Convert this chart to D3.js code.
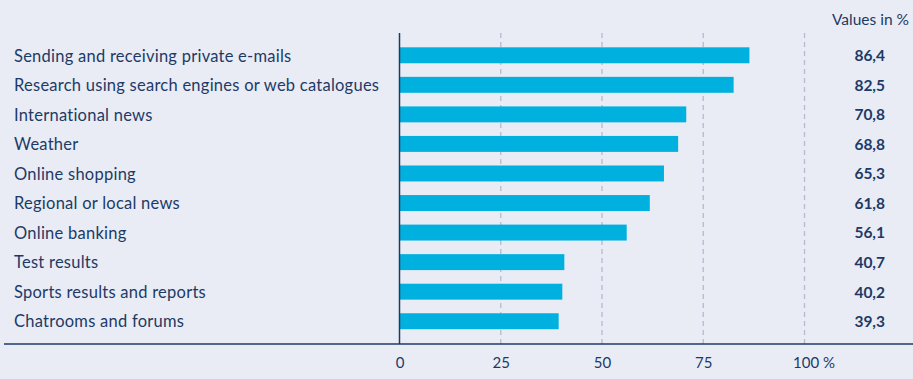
<!DOCTYPE html>
<html><head><meta charset="utf-8">
<script src="https://cdn.jsdelivr.net/npm/d3@7"></script>
<style>
html,body{margin:0;padding:0;background:#e9ecf5;}
svg{display:block;}
text{font-family:Lato,"Open Sans",sans-serif;fill:#1d3a66;}
</style></head><body>
<svg id="chart" width="913" height="379"></svg>
<script>
const categories = ["Sending and receiving private e-mails","Research using search engines or web catalogues","International news","Weather","Online shopping","Regional or local news","Online banking","Test results","Sports results and reports","Chatrooms and forums"];
const values = [86.4, 82.5, 70.8, 68.8, 65.3, 61.8, 56.1, 40.7, 40.2, 39.3];
const valueLabels = ["86,4","82,5","70,8","68,8","65,3","61,8","56,1","40,7","40,2","39,3"];
const ticks = [0, 25, 50, 75, 100];
const unitLabel = "Values in %";

const svg = d3.select("#chart");
const x = d3.scaleLinear().domain([0,100]).range([399.5, 804.5]);
const y = d3.scaleBand().domain(categories).range([40.5, 336]).paddingInner(0.46).paddingOuter(0.23);

// gridlines
svg.append("g").selectAll("line").data(ticks.filter(t=>t>0)).join("line")
  .attr("x1",d=>x(d)).attr("x2",d=>x(d)).attr("y1",33).attr("y2",344)
  .attr("stroke","#b3bbd0").attr("stroke-width",1.3).attr("stroke-dasharray","5,4");

// bars
svg.append("g").selectAll("rect").data(values).join("rect")
  .attr("x",x(0)).attr("y",(d,i)=>y(categories[i]))
  .attr("width",d=>x(d)-x(0)).attr("height",y.bandwidth())
  .attr("fill","#00b1df");

// vertical axis line
svg.append("line").attr("x1",x(0)).attr("x2",x(0)).attr("y1",33).attr("y2",344)
  .attr("stroke","#1d3a66").attr("stroke-width",1.5);
// horizontal baseline
svg.append("line").attr("x1",4).attr("x2",913).attr("y1",344).attr("y2",344)
  .attr("stroke","#1d3a66").attr("stroke-width",1.5);

// category labels
svg.append("g").selectAll("text").data(categories).join("text")
  .attr("x",14).attr("y",d=>y(d)+y.bandwidth()/2).attr("dy","0.38em")
  .style("font-size","16.5px").style("letter-spacing","0.25px").text(d=>d);

// value labels
svg.append("g").selectAll("text").data(valueLabels).join("text")
  .attr("x",885).attr("y",(d,i)=>y(categories[i])+y.bandwidth()/2).attr("dy","0.38em")
  .attr("text-anchor","end").style("font-size","15.5px").style("font-weight","bold").text(d=>d);

svg.append("text").attr("x",909).attr("y",20).attr("dy","0.35em").attr("text-anchor","end")
  .style("font-size","15.5px").text(unitLabel);

// x axis
const axis = d3.axisBottom(x).tickValues(ticks).tickSize(0).tickPadding(0)
  .tickFormat(d=> d===100 ? "100 %" : String(d));
const ag = svg.append("g").attr("transform","translate(0,357)").call(axis);
ag.select(".domain").remove();
ag.selectAll("text").style("font-size","15px").style("font-family","Lato, sans-serif").attr("fill","#1d3a66").attr("dy","0.71em")
  .filter(d=>d===100).attr("text-anchor","start").attr("dx","-12");
</script>
</body></html>
